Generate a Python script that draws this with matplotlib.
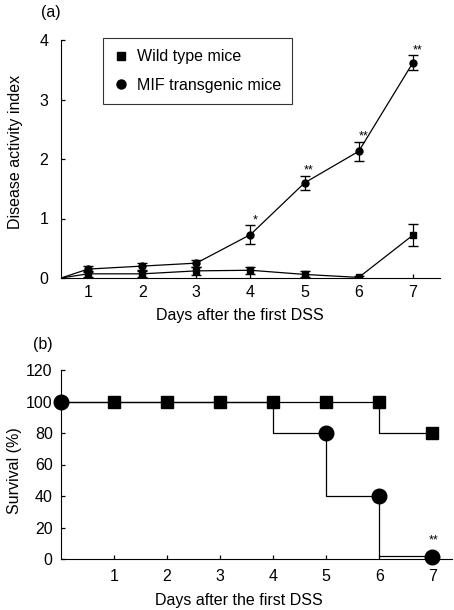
import matplotlib
matplotlib.use("Agg")
import matplotlib.pyplot as plt
from matplotlib.lines import Line2D

plt.rcParams['font.family'] = ['Liberation Sans', 'DejaVu Sans']

# Panel (a) data
days = [1, 2, 3, 4, 5, 6, 7]
start_x = 0.5
mif_dai = [0.15, 0.20, 0.25, 0.73, 1.60, 2.13, 3.62]
mif_err = [0.05, 0.06, 0.06, 0.16, 0.12, 0.16, 0.13]
wt_dai = [0.07, 0.07, 0.12, 0.13, 0.06, 0.01, 0.72]
wt_err = [0.05, 0.05, 0.07, 0.06, 0.05, 0.02, 0.18]
sig_a = ['', '', '', '*', '**', '**', '**']

# Panel (b) data
surv_days = [0, 1, 2, 3, 4, 5, 6, 7]
wt_surv = [100, 100, 100, 100, 100, 100, 80, 80]
mif_surv = [100, 100, 100, 100, 80, 40, 2, 2]
wt_mark_days = [1, 2, 3, 4, 5, 6, 7]
wt_mark_vals = [100, 100, 100, 100, 100, 100, 80]
mif_mark_days = [0, 5, 6, 7]
mif_mark_vals = [100, 80, 40, 1]

fig = plt.figure(figsize=(4.54, 6.10), dpi=100)

fs = 11.5
# ---------- Panel (a) ----------
ax1 = fig.add_axes([61/454, 1-278/610, (440-61)/454, (278-40)/610])
ax1.errorbar([start_x] + days, [0] + mif_dai, yerr=[0] + mif_err, color='black', lw=0.9,
             marker='o', ms=5, capsize=3.5, elinewidth=0.9, markevery=list(range(1, 8)))
ax1.errorbar([start_x] + days, [0] + wt_dai, yerr=[0] + wt_err, color='black', lw=0.9,
             marker='s', ms=5, capsize=3.5, elinewidth=0.9, markevery=list(range(1, 8)))
for d, v, e, s in zip(days, mif_dai, mif_err, sig_a):
    if s:
        ax1.text(d + 0.08, v + e - 0.02, s, ha='center', va='bottom', fontsize=9)
ax1.set_xlim(0.5, 7.5)
ax1.set_ylim(0, 4)
ax1.set_xticks(days)
ax1.set_yticks([0, 1, 2, 3, 4])
ax1.spines['top'].set_visible(False)
ax1.spines['right'].set_visible(False)
ax1.tick_params(direction='in', length=3, labelsize=fs, width=0.9)
ax1.tick_params(axis='x', pad=5)
ax1.tick_params(axis='y', pad=9)
ax1.set_ylabel('Disease activity index', fontsize=fs)
ax1.yaxis.set_label_coords((23-61)/379, 0.53)
ax1.set_xlabel('Days after the first DSS', fontsize=fs)
ax1.xaxis.set_label_coords(0.472, -0.125)
handles = [Line2D([], [], ls='none', marker='s', color='black', ms=6),
           Line2D([], [], ls='none', marker='o', color='black', ms=6.5)]
leg = ax1.legend(handles, ['Wild type mice', 'MIF transgenic mice'],
                 loc='upper left', bbox_to_anchor=((103-61)/379, 1 + 2/238),
                 borderaxespad=0, fancybox=False, edgecolor='black', fontsize=fs,
                 handletextpad=0.5, borderpad=0.7, labelspacing=0.85, handlelength=0.9)
leg.get_frame().set_linewidth(0.8)
fig.text(41/454, 1-12/610, '(a)', fontsize=fs, ha='left', va='center')

# ---------- Panel (b) ----------
ax2 = fig.add_axes([61/454, 1-559/610, (452-61)/454, (559-370)/610])
ax2.plot(surv_days, wt_surv, drawstyle='steps-post', color='black', lw=0.9)
ax2.plot(surv_days, mif_surv, drawstyle='steps-post', color='black', lw=0.9)
ax2.plot(wt_mark_days, wt_mark_vals, ls='none', marker='s', color='black', ms=8.5)
ax2.plot(mif_mark_days, mif_mark_vals, ls='none', marker='o', color='black', ms=10.5, clip_on=False)
ax2.text(7.03, 8, '**', ha='center', va='bottom', fontsize=9)
ax2.set_xlim(0, 7.37)
ax2.set_ylim(0, 120)
ax2.set_xticks(days)
ax2.set_yticks([0, 20, 40, 60, 80, 100, 120])
ax2.spines['top'].set_visible(False)
ax2.spines['right'].set_visible(False)
ax2.tick_params(direction='in', length=3, labelsize=fs, width=0.9)
ax2.tick_params(axis='x', pad=7)
ax2.tick_params(axis='y', pad=6)
ax2.set_ylabel('Survival (%)', fontsize=fs)
ax2.yaxis.set_label_coords((22-61)/391, 0.466)
ax2.set_xlabel('Days after the first DSS', fontsize=fs)
ax2.xaxis.set_label_coords(0.455, -0.18)
fig.text(33/454, 1-344/610, '(b)', fontsize=fs, ha='left', va='center')

fig.savefig('out.png', dpi=100)
